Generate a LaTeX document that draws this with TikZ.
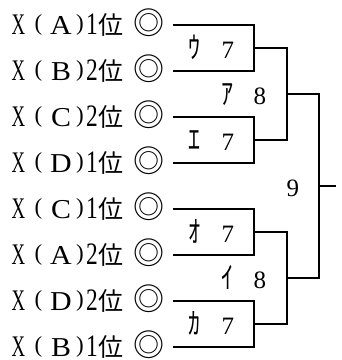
\documentclass[tikz,border=0pt]{standalone}
\usepackage{graphicx}
\usepackage{fontspec}
\setmainfont{Liberation Serif}
\newfontfamily\cjk{Noto Sans CJK JP}
\newcommand\latf{\fontsize{26}{26}\selectfont}
\newcommand\gat[2]{\rlap{\hspace*{#1pt}\makebox[0pt]{#2}}}
\newcommand\rowtxt[2]{%
\gat{18.5}{\latf\scalebox{0.72}[1.15]{X}}%
\gat{38.5}{\raisebox{3.5pt}{\fontsize{23}{23}\selectfont (}}%
\gat{61}{\latf\scalebox{1.15}[1.05]{#1}}%
\gat{80}{\raisebox{3.5pt}{\fontsize{23}{23}\selectfont )}}%
\gat{92}{\latf\scalebox{0.9}[1.2]{#2}}%
\gat{111}{\cjk\fontsize{25}{25}\selectfont 位}%
\gat{149.5}{\cjk\fontsize{31}{31}\selectfont ◎}%
\hspace*{162pt}}
\newcommand\kana[1]{{\cjk\fontsize{30}{30}\selectfont\scalebox{0.8}[1]{#1}}}
\newcommand\dig[1]{{\fontsize{25}{25}\selectfont #1}}
\begin{document}
\begin{tikzpicture}[x=1pt,y=-1pt,
  rowlab/.style={anchor=base west, inner sep=0pt, outer sep=0pt},
  lab/.style={anchor=base, inner sep=0pt, outer sep=0pt},
  wire/.style={line width=1.6pt, line join=miter}]
\useasboundingbox (0,0) rectangle (342,360);
\foreach \i/\l/\n in {1/A/1,2/B/2,3/C/2,4/D/1,5/C/1,6/A/2,7/D/2,8/B/1}{
  \pgfmathsetmacro\yy{25+46*(\i-1)}
  \node[rowlab] (r\i) at (0,\yy+9) {\rowtxt{\l}{\n}};
  \coordinate (s\i) at (173,\yy);
}
\coordinate (m1) at (254,48);
\coordinate (m2) at (254,140);
\coordinate (m3) at (254,232);
\coordinate (m4) at (254,324);
\coordinate (n1) at (287,94);
\coordinate (n2) at (287,278);
\coordinate (f) at (319,186);
\coordinate (out) at (336,186);
\draw[wire] (s1) -- (s1 -| m1) -- (s2 -| m1) -- (s2);
\draw[wire] (s3) -- (s3 -| m2) -- (s4 -| m2) -- (s4);
\draw[wire] (s5) -- (s5 -| m3) -- (s6 -| m3) -- (s6);
\draw[wire] (s7) -- (s7 -| m4) -- (s8 -| m4) -- (s8);
\draw[wire] (m1) -- (m1 -| n1) -- (m2 -| n1) -- (m2);
\draw[wire] (m3) -- (m3 -| n2) -- (m4 -| n2) -- (m4);
\draw[wire] (n1) -- (n1 -| f) -- (n2 -| f) -- (n2);
\draw[wire] (f) -- (out);
% labels
\node[lab] (ku) at (195,58) {\kana{ｳ}};
\node[lab] (du) at (228,58) {\dig{7}};
\node[lab] (ke) at (195,150) {\kana{ｴ}};
\node[lab] (de) at (228,150) {\dig{7}};
\node[lab] (ko) at (195,242) {\kana{ｵ}};
\node[lab] (do) at (228,242) {\dig{7}};
\node[lab] (kk) at (195,334) {\kana{ｶ}};
\node[lab] (dk) at (228,334) {\dig{7}};
\node[lab] (ka) at (228,104) {\kana{ｱ}};
\node[lab] (da) at (260,104) {\dig{8}};
\node[lab] (ki) at (228,288) {\kana{ｲ}};
\node[lab] (di) at (260,288) {\dig{8}};
\node[lab] (d9) at (293,196) {\dig{9}};
\end{tikzpicture}
\end{document}
